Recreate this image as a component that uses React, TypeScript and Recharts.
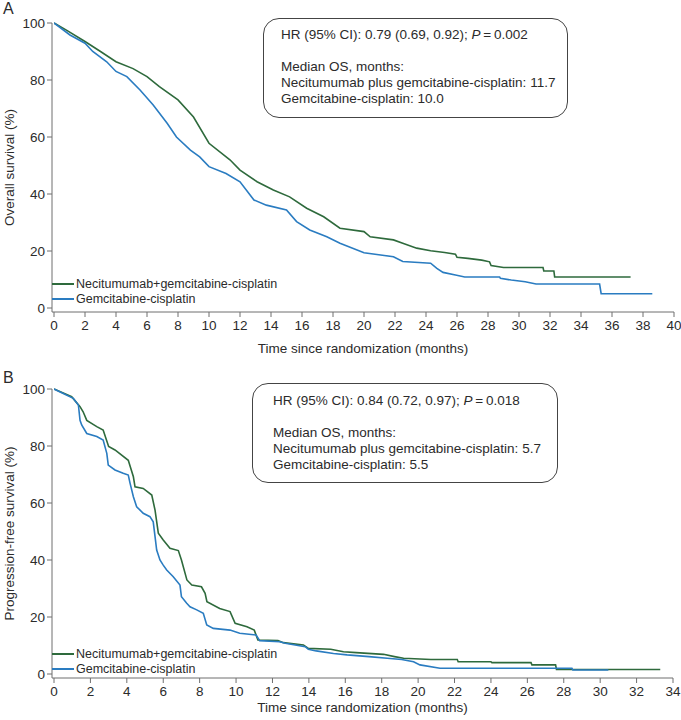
import React from "react";
import { LineChart, Line, XAxis, YAxis, Legend } from "recharts";

// [month, survival %]
const osNeci = [
  [0, 100], [0.8, 97.5], [2, 93.5], [3, 90], [4, 86.4], [5.1, 84], [6, 81.2], [6.8, 77.7],
  [8, 73], [9, 67], [10, 57.8], [11.35, 52], [12, 48.4], [13.1, 44.3], [14.15, 41.4],
  [15.2, 39], [16.3, 35], [17.4, 32], [18.45, 28], [20, 26.8], [20.4, 25], [21.9, 23.9],
  [22.5, 22.7], [23.4, 21], [24.3, 20.1], [25.2, 19.5], [25.9, 18.9], [26, 17.8], [26.7, 17.4],
  [27.6, 16.8], [28.1, 16.2], [28.2, 14.9], [29, 14.2], [31.55, 14.2], [31.6, 13], [32.25, 13],
  [32.3, 10.9], [37.2, 10.9],
];

const osGem = [
  [0, 100], [1.03, 95.8], [2, 92.9], [2.5, 90], [3.4, 86.4], [4, 83], [4.7, 81.2], [5.55, 76.5],
  [6.4, 71.2], [7.3, 64.8], [7.9, 60], [8.8, 55.4], [9.4, 53], [10, 49.6], [11.1, 47.2],
  [12, 44.3], [12.9, 37.9], [13.7, 36.1], [15, 34.4], [15.65, 30.3], [16.5, 27.4], [17.6, 25],
  [18.45, 22.7], [20, 19.4], [21.9, 18], [22.5, 16.3], [24.3, 15.7], [24.7, 13.9], [25.1, 12.5],
  [25.9, 11.6], [26.5, 10.9], [28.75, 10.9], [28.8, 10.4], [29.5, 9.8], [30.4, 9.2], [31.1, 8.4],
  [35.2, 8.4], [35.3, 5], [38.6, 5],
];

const pfsNeci = [
  [0, 100], [0.97, 97.3], [1.43, 93.8], [1.6, 92], [1.8, 89], [2.35, 86.8], [2.7, 85.6],
  [3, 79.8], [3.35, 78.6], [4.08, 75], [4.36, 69.2], [4.45, 65.7], [4.9, 65.1], [5.37, 62.8],
  [5.55, 57.5], [5.73, 49.4], [6, 47], [6.37, 44.1], [6.83, 43.3], [7, 40], [7.3, 33],
  [7.57, 31.2], [8.1, 30.6], [8.3, 28.3], [8.4, 25.4], [9.1, 23], [9.67, 21.9], [9.95, 17.8],
  [10.6, 16.6], [11, 15.4], [11.2, 11.9], [12.3, 11.7], [12.6, 11], [13.7, 10.2], [13.97, 9],
  [15.2, 8.7], [15.9, 7.8], [16.6, 7.5], [18.1, 6.9], [18.7, 6.1], [19.2, 5.5], [20.7, 5.1],
  [22.15, 5.1], [22.2, 4.3], [24, 4.3], [24.05, 4], [26.2, 4], [26.25, 3.2], [27.55, 3.2],
  [27.6, 1.6], [33.3, 1.6],
];

const pfsGem = [
  [0, 100], [1.06, 96.7], [1.34, 94.4], [1.43, 89], [1.52, 87.4], [1.8, 84.4], [2.35, 83.3],
  [2.7, 82.1], [2.9, 77.4], [2.98, 73.3], [3.35, 71.6], [3.8, 70.4], [4.08, 69.8], [4.18, 66.9],
  [4.36, 62.2], [4.54, 58.7], [4.9, 56.4], [5.27, 55.2], [5.45, 53.4], [5.55, 48.2], [5.64, 43.5],
  [5.82, 40], [6, 38.2], [6.19, 36.5], [6.55, 34.1], [6.92, 31.2], [7, 27.1], [7.29, 24.8],
  [7.47, 23.6], [7.84, 22.5], [8.2, 21.3], [8.39, 17.2], [8.75, 16], [9.67, 15.4], [10.2, 14.3],
  [11.1, 13.7], [11.3, 11.7], [12.4, 11.3], [12.7, 10.8], [13.8, 9.6], [13.97, 8.7], [14.4, 8.1],
  [15.35, 7.2], [16.1, 6.7], [17.3, 6.1], [18.3, 5.5], [19.1, 5.1], [19.75, 4.3], [20.1, 3.2],
  [21.2, 2], [28.45, 2], [28.5, 1.4], [30.45, 1.4],
];

const seriesNames = ["Necitumumab+gemcitabine-cisplatin", "Gemcitabine-cisplatin"];
const armNames = ["Necitumumab plus gemcitabine-cisplatin", "Gemcitabine-cisplatin"];
const osTicks = [0, 2, 4, 6, 8, 10, 12, 14, 16, 18, 20, 22, 24, 26, 28, 30, 32, 34, 36, 38, 40];
const pfsTicks = [0, 2, 4, 6, 8, 10, 12, 14, 16, 18, 20, 22, 24, 26, 28, 30, 32, 34];
const yTicks = [0, 20, 40, 60, 80, 100];
const hrText = ["0.79 (0.69, 0.92)", "0.84 (0.72, 0.97)"];
const pText = ["0.002", "0.018"];
const osMedians = ["11.7", "10.0"];
const pfsMedians = ["5.7", "5.5"];

const GREEN = "#2e6a3c";
const BLUE = "#2a7cc1";
const AXIS = "#6f6f6f";
const INK = "#2b2b2b";
const FONT = "'Liberation Sans', Arial, Helvetica, sans-serif";

const toPoints = (rows: number[][]) => rows.map(([t, s]) => ({ t, s }));

// keep the legend in series order (green first), not alphabetical
const renderLegend = (props: any) => {
  const items = [...(props.payload || [])].sort(
    (a: any, b: any) => seriesNames.indexOf(a.value) - seriesNames.indexOf(b.value)
  );
  return (
    <div style={{ fontSize: 12.5, color: INK }}>
      {items.map((p: any) => (
        <div key={p.value} style={{ display: "flex", alignItems: "center", height: 15 }}>
          <span style={{ display: "inline-block", width: 22, borderTop: `2px solid ${p.color}`, marginRight: 2 }} />
          <span>{p.value}</span>
        </div>
      ))}
    </div>
  );
};

interface PanelProps {
  top: number;
  letter: string;
  letterTop: number;
  yTitle: string;
  xMax: number;
  xTicks: number[];
  neci: number[][];
  gem: number[][];
  hr: string;
  p: string;
  medians: string[];
  plotTop: number;
  axisHeight: number;
  marginBottom: number;
  marginRight: number;
  titleOffset: number;
  legendTop: number;
  box: { left: number; top: number; width: number; padLeft: number; padTop: number };
}

const Panel = (props: PanelProps) => {
  const { box } = props;
  return (
    <div style={{ position: "absolute", left: 0, top: props.top, width: 681, height: 360 }}>
      <LineChart
        width={681}
        height={360}
        margin={{ top: props.plotTop, right: props.marginRight, bottom: props.marginBottom, left: 0 }}
      >
        <XAxis
          type="number"
          dataKey="t"
          domain={[0, props.xMax]}
          ticks={props.xTicks}
          interval={0}
          allowDataOverflow
          padding={{ left: 2, right: 0 }}
          height={props.axisHeight}
          stroke={AXIS}
          tickSize={5}
          tickMargin={3}
          tick={{ fill: INK, fontSize: 13.5 }}
          label={{
            value: "Time since randomization (months)",
            position: "insideBottom",
            offset: props.titleOffset,
            fill: INK,
            fontSize: 13.5,
          }}
        />
        <YAxis
          type="number"
          domain={[0, 100]}
          ticks={yTicks}
          interval={0}
          width={52}
          padding={{ top: 0, bottom: 4 }}
          stroke={AXIS}
          tickSize={5}
          tickMargin={2}
          tick={{ fill: INK, fontSize: 13.5 }}
          label={{
            value: props.yTitle,
            angle: -90,
            position: "insideLeft",
            offset: 9,
            fill: INK,
            fontSize: 13.5,
            style: { textAnchor: "middle" },
          }}
        />
        <Line
          data={toPoints(props.neci)}
          dataKey="s"
          name={seriesNames[0]}
          type="linear"
          stroke={GREEN}
          strokeWidth={1.6}
          dot={false}
          isAnimationActive={false}
        />
        <Line
          data={toPoints(props.gem)}
          dataKey="s"
          name={seriesNames[1]}
          type="linear"
          stroke={BLUE}
          strokeWidth={1.6}
          dot={false}
          isAnimationActive={false}
        />
        <Legend
          layout="vertical"
          align="center"
          verticalAlign="middle"
          content={renderLegend}
          wrapperStyle={{ left: 52, top: props.legendTop, width: "auto", height: "auto" }}
        />
      </LineChart>
      <div
        style={{ position: "absolute", left: 3, top: props.letterTop, fontSize: 16, lineHeight: 1, color: INK }}
      >
        {props.letter}
      </div>
      <div
        style={{
          position: "absolute",
          left: box.left,
          top: box.top,
          width: box.width,
          height: 100,
          boxSizing: "border-box",
          border: "1px solid #444",
          borderRadius: 16,
          paddingLeft: box.padLeft,
          paddingTop: box.padTop,
          fontSize: 13.5,
          lineHeight: "16px",
          color: INK,
          background: "#fff",
        }}
      >
        <div>
          HR (95% CI): {props.hr}; <i>P</i>{"\u2009=\u2009"}
          {props.p}
        </div>
        <div>&nbsp;</div>
        <div>Median OS, months:</div>
        <div>
          {armNames[0]}: {props.medians[0]}
        </div>
        <div>
          {armNames[1]}: {props.medians[1]}
        </div>
      </div>
    </div>
  );
};

export default function App() {
  return (
    <div
      style={{
        position: "absolute",
        left: 0,
        top: 0,
        width: 681,
        height: 720,
        background: "#fff",
        fontFamily: FONT,
        overflow: "hidden",
      }}
    >
      <Panel
        top={0}
        letter="A"
        letterTop={1}
        yTitle="Overall survival (%)"
        xMax={40}
        xTicks={osTicks}
        neci={osNeci}
        gem={osGem}
        hr={hrText[0]}
        p={pText[0]}
        medians={osMedians}
        plotTop={23}
        axisHeight={45}
        marginBottom={3}
        marginRight={7}
        titleOffset={4}
        legendTop={276}
        box={{ left: 263, top: 18, width: 305, padLeft: 17, padTop: 8 }}
      />
      <Panel
        top={360}
        letter="B"
        letterTop={10}
        yTitle="Progression-free survival (%)"
        xMax={34}
        xTicks={pfsTicks}
        neci={pfsNeci}
        gem={pfsGem}
        hr={hrText[1]}
        p={pText[1]}
        medians={pfsMedians}
        plotTop={29}
        axisHeight={40}
        marginBottom={2}
        marginRight={8}
        titleOffset={6}
        legendTop={286}
        box={{ left: 252, top: 23, width: 306, padLeft: 20, padTop: 9 }}
      />
    </div>
  );
}
